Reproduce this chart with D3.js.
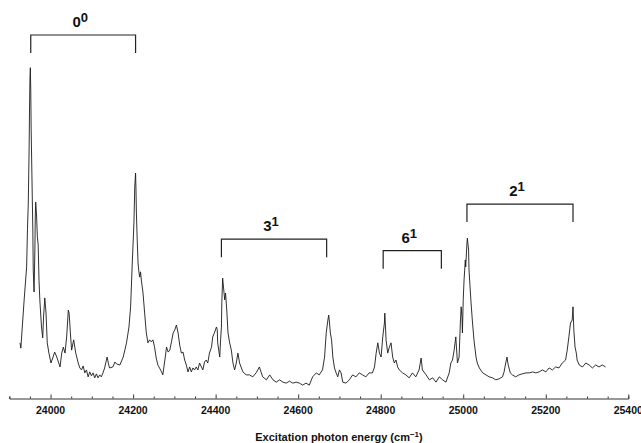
<!DOCTYPE html>
<html lang="en">
<head>
<meta charset="UTF-8">
<title>Excitation spectrum</title>
<script src="https://d3js.org/d3.v7.min.js"></script>
<style>
  body { margin: 0; background: #fff; }
  svg { display: block; font-family: "Liberation Sans", Arial, sans-serif; }
  .tick-label { font-size: 10.5px; font-weight: bold; fill: #111; }
  .axis-title { font-size: 11px; font-weight: bold; fill: #111; }
  .band-label { font-size: 15px; font-weight: bold; fill: #111; }
</style>
</head>
<body>
<svg id="chart" width="641" height="443"></svg>
<script>
// photon energy (cm-1) and signal (arb. units, tallest peak = 100)
const energy = [
  23926, 23928, 23931, 23936, 23942, 23944, 23946, 23948, 23949, 23950,
  23951, 23952, 23953, 23955, 23957, 23958, 23960, 23962, 23963, 23964,
  23966, 23968, 23970, 23972, 23974, 23978, 23981, 23983, 23986, 23989,
  23992, 23996, 24001, 24006, 24010, 24015, 24019, 24023, 24027, 24031,
  24035, 24039, 24043, 24045, 24048, 24051, 24056, 24061, 24067, 24071,
  24075, 24079, 24083, 24087, 24091, 24095, 24099, 24103, 24107, 24111,
  24115, 24119, 24123, 24127, 24131, 24137, 24141, 24143, 24151, 24156,
  24160, 24168, 24172, 24176, 24180, 24184, 24187, 24190, 24194, 24198,
  24202, 24204, 24206, 24207, 24208, 24210, 24212, 24214, 24216, 24218,
  24220, 24224, 24228, 24232, 24236, 24240, 24244, 24248, 24252, 24256,
  24260, 24264, 24269, 24272, 24277, 24281, 24285, 24289, 24293, 24297,
  24301, 24305, 24309, 24313, 24317, 24321, 24325, 24329, 24333, 24337,
  24341, 24345, 24349, 24353, 24357, 24361, 24369, 24373, 24377, 24381,
  24385, 24390, 24393, 24397, 24402, 24404, 24405, 24410, 24412, 24414,
  24415, 24417, 24419, 24422, 24424, 24427, 24430, 24434, 24438, 24442,
  24446, 24450, 24454, 24458, 24466, 24474, 24482, 24490, 24498, 24506,
  24514, 24523, 24531, 24539, 24547, 24555, 24563, 24571, 24579, 24587,
  24595, 24603, 24611, 24619, 24627, 24635, 24644, 24651, 24659, 24664,
  24668, 24672, 24674, 24676, 24678, 24681, 24684, 24688, 24692, 24696,
  24700, 24704, 24708, 24716, 24724, 24732, 24740, 24748, 24756, 24764,
  24772, 24780, 24785, 24789, 24793, 24797, 24801, 24805, 24809, 24810,
  24813, 24817, 24821, 24825, 24829, 24833, 24837, 24841, 24845, 24853,
  24861, 24869, 24877, 24885, 24893, 24898, 24901, 24910, 24918, 24926,
  24934, 24942, 24950, 24958, 24966, 24970, 24974, 24978, 24982, 24986,
  24990, 24993, 24995, 24997, 24998, 25000, 25002, 25005, 25006, 25009,
  25010, 25013, 25014, 25017, 25019, 25022, 25026, 25031, 25034, 25039,
  25047, 25055, 25063, 25071, 25079, 25087, 25095, 25099, 25103, 25106,
  25109, 25114, 25119, 25127, 25135, 25143, 25152, 25160, 25168, 25176,
  25184, 25192, 25200, 25208, 25216, 25224, 25232, 25240, 25248, 25252,
  25256, 25260, 25264, 25266, 25268, 25271, 25274, 25276, 25281, 25289,
  25297, 25305, 25313, 25321, 25329, 25337, 25345
];
const signal = [
  16.7, 15.1, 20.6, 29.7, 39.7, 50.9, 59.0, 75.1, 87.2, 96.3,
  100.0, 93.3, 81.2, 66.0, 50.9, 38.8, 32.1, 44.8, 55.4, 59.3,
  55.4, 48.8, 46.3, 35.7, 29.7, 21.5, 18.2, 24.5, 30.3, 25.7,
  16.7, 13.6, 10.6, 12.4, 13.9, 12.4, 10.9, 9.4, 13.6, 15.4,
  13.6, 18.5, 26.6, 25.7, 19.7, 14.5, 17.6, 13.6, 10.6, 9.1,
  8.5, 9.7, 7.6, 8.5, 6.4, 7.9, 6.7, 7.6, 6.1, 7.3,
  6.1, 7.0, 6.4, 7.6, 9.1, 12.4, 10.0, 9.1, 9.4, 10.9,
  10.3, 10.0, 11.2, 12.4, 14.5, 16.7, 19.1, 21.5, 27.6, 40.9,
  53.0, 63.9, 68.1, 63.0, 56.0, 47.8, 40.9, 38.2, 36.6, 38.2,
  35.7, 31.8, 25.7, 19.7, 16.7, 17.6, 17.0, 17.6, 15.4, 12.1,
  10.0, 9.1, 7.9, 7.0, 11.5, 15.4, 13.9, 14.5, 17.0, 19.7,
  20.6, 22.1, 19.7, 16.0, 13.6, 13.9, 11.5, 10.0, 7.9, 9.4,
  7.9, 9.1, 8.5, 9.4, 8.5, 10.6, 8.5, 10.9, 11.5, 10.6,
  13.6, 15.4, 18.5, 19.7, 21.5, 20.6, 16.7, 12.4, 17.6, 21.5,
  28.8, 36.3, 33.6, 29.7, 31.8, 26.6, 19.7, 16.7, 14.5, 10.6,
  8.5, 10.6, 13.6, 10.6, 7.9, 7.0, 7.0, 6.4, 7.6, 9.4,
  6.4, 5.5, 7.0, 5.5, 4.8, 5.5, 4.8, 4.5, 5.1, 4.5,
  4.8, 4.5, 3.9, 4.5, 3.9, 6.4, 7.6, 7.0, 8.5, 12.4,
  19.7, 23.6, 25.1, 22.7, 19.7, 17.6, 12.4, 9.1, 7.6, 6.4,
  8.5, 7.6, 4.8, 4.5, 5.5, 7.0, 6.4, 7.6, 7.0, 6.4,
  7.6, 7.6, 9.4, 13.6, 16.7, 13.6, 12.4, 18.5, 22.7, 25.7,
  17.6, 13.6, 15.4, 16.7, 12.4, 10.6, 11.5, 9.4, 8.5, 7.6,
  7.0, 6.1, 7.6, 6.4, 8.5, 12.1, 8.5, 7.0, 5.5, 6.1,
  4.8, 6.4, 5.5, 4.8, 7.6, 10.6, 11.5, 14.5, 18.5, 10.6,
  12.4, 22.7, 27.6, 24.5, 19.7, 29.7, 35.7, 41.8, 39.7, 46.9,
  48.4, 44.8, 38.8, 32.7, 28.8, 23.6, 17.6, 12.4, 10.6, 9.1,
  7.6, 7.0, 6.4, 6.1, 5.5, 5.8, 6.4, 7.9, 10.6, 12.4,
  10.0, 7.6, 7.0, 6.4, 7.0, 7.3, 7.6, 7.6, 7.9, 7.6,
  7.9, 8.5, 7.9, 9.1, 8.5, 9.4, 9.1, 10.6, 11.5, 14.5,
  18.5, 22.7, 23.6, 27.6, 20.6, 15.4, 13.6, 11.5, 10.0, 9.4,
  10.6, 10.0, 9.1, 10.0, 9.4, 10.0, 9.4
];

// progression brackets: label, superscript, start / end energy, bracket height
const bandBase = ["0", "3", "6", "2"];
const bandSup = ["0", "1", "1", "1"];
const bandStart = [23952, 24414, 24806, 25009];
const bandEnd = [24206, 24669, 24947, 25266];
const bandLevel = [109.9, 48.1, 44.6, 58.7];

const xTicks = [24000, 24200, 24400, 24600, 24800, 25000, 25200, 25400];
const xDomain = [23900, 25400];

const svg = d3.select("#chart");
const x = d3.scaleLinear().domain(xDomain).range([9.3, 628.3]);
const y = d3.scaleLinear().domain([0, 100]).range([398, 67.7]);
const axisY = 398.5;

// spectrum trace
const pts = energy.map((e, i) => [e, signal[i]]);
svg.append("path")
  .datum(pts)
  .attr("fill", "none")
  .attr("stroke", "#1a1a1a")
  .attr("stroke-width", 0.9)
  .attr("stroke-linejoin", "round")
  .attr("d", d3.line().x(d => x(d[0])).y(d => y(d[1])));

// bottom axis, ticks pointing up into the plot
const minor = d3.range(xDomain[0], xDomain[1] + 1, 50);
const gAxis = svg.append("g").attr("transform", `translate(0,${axisY})`);
gAxis.call(d3.axisBottom(x).tickValues(minor).tickSize(-2).tickFormat(""));
gAxis.select(".domain").attr("stroke", "#333").attr("stroke-width", 1);
gAxis.selectAll(".tick line").attr("stroke", "#333");
gAxis.selectAll(".tick line").filter(d => xTicks.includes(d)).attr("y2", -4);

svg.selectAll(".tick-label")
  .data(xTicks)
  .enter().append("text")
  .attr("class", "tick-label")
  .attr("x", d => x(d))
  .attr("y", 414)
  .attr("text-anchor", "middle")
  .text(d => d);

const title = svg.append("text")
  .attr("class", "axis-title")
  .attr("x", 339)
  .attr("y", 441)
  .attr("text-anchor", "middle");
title.append("tspan").text("Excitation photon energy (cm");
title.append("tspan").attr("dy", -4).style("font-size", "8px").text("−1");
title.append("tspan").attr("dy", 4).text(")");

// brackets
const drop = 18;
bandBase.forEach((b, i) => {
  const x0 = x(bandStart[i]), x1 = x(bandEnd[i]), yt = y(bandLevel[i]);
  svg.append("path")
    .attr("fill", "none")
    .attr("stroke", "#222")
    .attr("stroke-width", 1.2)
    .attr("d", `M${x0},${yt + drop}V${yt}H${x1}V${yt + drop}`);
  const t = svg.append("text")
    .attr("class", "band-label")
    .attr("x", (x0 + x1) / 2 - 3)
    .attr("y", yt - 8)
    .attr("text-anchor", "middle");
  t.append("tspan").text(b);
  t.append("tspan").attr("dy", -5).style("font-size", "13px").text(bandSup[i]);
});
</script>
</body>
</html>
